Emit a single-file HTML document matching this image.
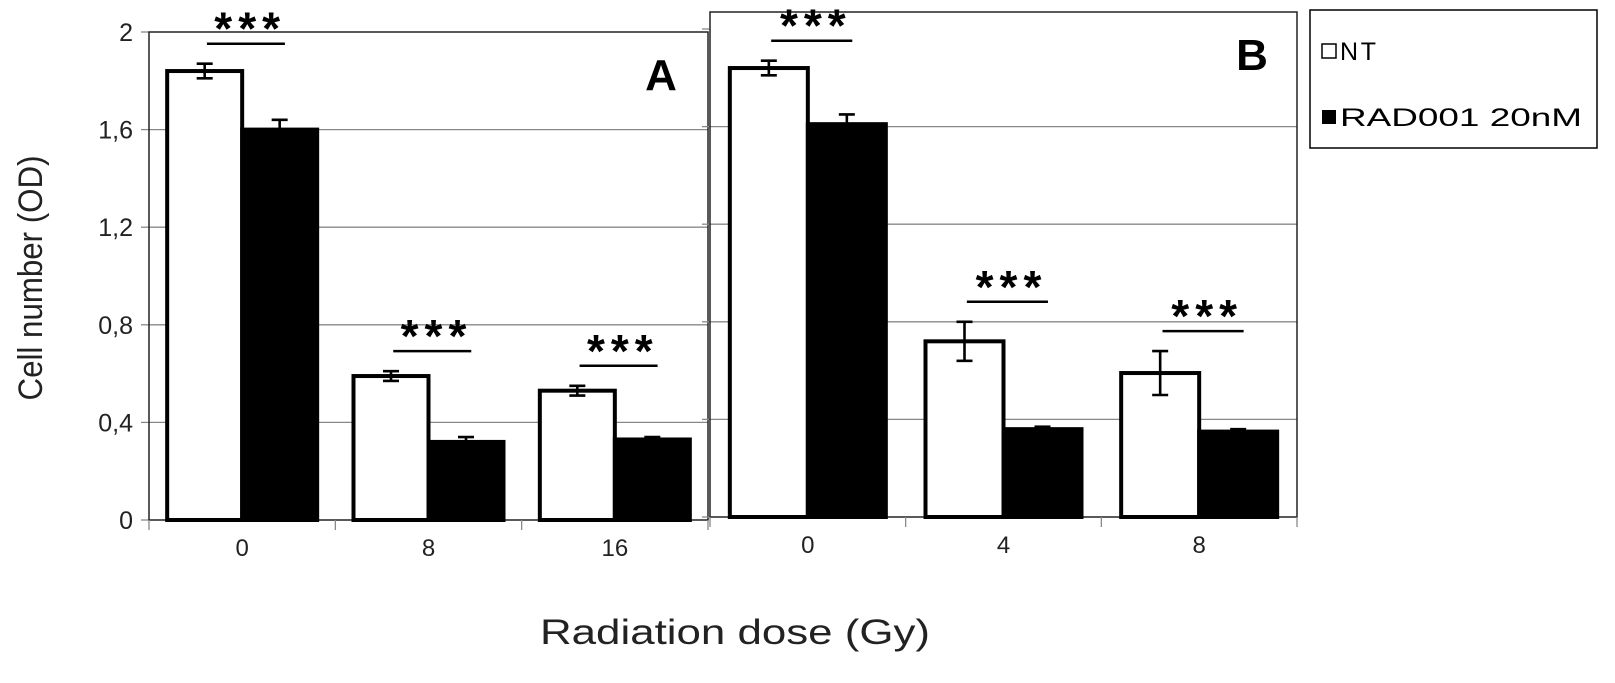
<!DOCTYPE html>
<html><head><meta charset="utf-8"><style>
body{margin:0;background:#fff;width:1615px;height:678px;overflow:hidden}
svg{font-family:"Liberation Sans",sans-serif}
</style></head><body>
<svg id="c" width="1615" height="678"></svg>
<script>
const catsA=["0","8","16"];
const ntA=[1.84,0.59,0.53], ntAErr=[0.03,0.02,0.02];
const radA=[1.60,0.32,0.33], radAErr=[0.04,0.02,0.01];
const catsB=["0","4","8"];
const ntB=[1.84,0.72,0.59], ntBErr=[0.03,0.08,0.09];
const radB=[1.61,0.36,0.35], radBErr=[0.04,0.01,0.01];
const yTicks=[0,0.4,0.8,1.2,1.6,2];
const yTickLabels=["0","0,4","0,8","1,2","1,6","2"];
const sigLabels=["***","***","***"];

const svg=document.getElementById('c');
const NS="http://www.w3.org/2000/svg";
function el(t,a,p){const e=document.createElementNS(NS,t);for(const k in a)e.setAttribute(k,a[k]);(p||svg).appendChild(e);return e;}

function panel(name,x0,x1,y0px,top,cats,nt,ntE,rad,radE,bw,showLabels,letter,letterX){
  const g=el('g',{});
  
  
  const y=v=>y0px-v/0.4*97.6;
  const step=(x1-x0)/cats.length;
  const cx=i=>x0+step*(i+0.5);
  yTicks.forEach((t,i)=>{
    if(t>0&&t<2){const l=el('line',{x1:x0,x2:x1,y1:y(t),y2:y(t),stroke:'#888','stroke-width':1.3},g);
      }
    el('line',{x1:x0-8,x2:x0,y1:y(t),y2:y(t),stroke:'#888','stroke-width':1.3},g);
    if(showLabels){const tx=el('text',{x:x0-16,y:y(t)+9,'font-size':25,'text-anchor':'end',fill:'#222'},g);
      tx.textContent=yTickLabels[i];}
  });
  const fr=el('rect',{x:x0,y:top,width:x1-x0,height:y0px-top,fill:'none',stroke:'#222','stroke-width':1.5},g);
  
  for(let i=0;i<=cats.length;i++) el('line',{x1:x0+step*i,x2:x0+step*i,y1:y0px,y2:y0px+10,stroke:'#888','stroke-width':1.3},g);
  cats.forEach((c,i)=>{
    const xc=cx(i);
    const b1=el('rect',{x:xc-bw,y:y(nt[i]),width:bw,height:y0px-y(nt[i]),fill:'#fff',stroke:'#000','stroke-width':4},g);
    
    const b2=el('rect',{x:xc,y:y(rad[i]),width:bw,height:y0px-y(rad[i]),fill:'#000',stroke:'#000','stroke-width':4},g);
    
    [[xc-bw/2,nt[i],ntE[i]],[xc+bw/2,rad[i],radE[i]]].forEach(([ex,v,e])=>{
      const eg=el('g',{stroke:'#000','stroke-width':2.6},g);
      
      el('line',{x1:ex,x2:ex,y1:y(v+e),y2:y(v-e)},eg);
      el('line',{x1:ex-8,x2:ex+8,y1:y(v+e),y2:y(v+e)},eg);
      el('line',{x1:ex-8,x2:ex+8,y1:y(v-e),y2:y(v-e)},eg);
    });
    const ly=y(nt[i]+ntE[i])-20;
    const sl=el('line',{x1:xc-bw*0.47,x2:xc+bw*0.57,y1:ly,y2:ly,stroke:'#000','stroke-width':2.5},g);
    
    const st=el('text',{x:xc+8,y:ly+1,'font-size':46,'font-weight':'bold','text-anchor':'middle','letter-spacing':'6'},g);
    st.textContent=sigLabels[i];
    const xl=el('text',{x:xc,y:y0px+36,'font-size':24,'text-anchor':'middle',fill:'#222'},g);
    xl.textContent=c;
  });
  const L=el('text',{x:letterX,y:top+58,'font-size':44,'font-weight':'bold','text-anchor':'middle'},g);
  L.textContent=letter;
}
panel('panel-a',149,708,520,32,catsA,ntA,ntAErr,radA,radAErr,75,true,'A',661);
panel('panel-b',710,1297,517,12,catsB,ntB,ntBErr,radB,radBErr,78,false,'B',1252);
</script>
<svg style="position:absolute;left:0;top:0" width="1615" height="678">
<g>
<rect x="1310" y="10" width="287" height="138" fill="#fff" stroke="#000" stroke-width="1.5"/>
<g>
<rect x="1322" y="44" width="14" height="14" fill="#fff" stroke="#000" stroke-width="1.5"/>
<text x="1340" y="60" font-size="25" textLength="36" font-family="Liberation Sans,sans-serif">NT</text></g>
<g>
<rect x="1322" y="110" width="14" height="14" fill="#000"/>
<text x="1340" y="126" font-size="25" textLength="242" lengthAdjust="spacingAndGlyphs" font-family="Liberation Sans,sans-serif">RAD001 20nM</text></g>
</g>
<text transform="translate(42,278) rotate(-90)" text-anchor="middle" font-size="34" textLength="245" lengthAdjust="spacingAndGlyphs" fill="#222" font-family="Liberation Sans,sans-serif">Cell number (OD)</text>
<text x="735" y="644" text-anchor="middle" font-size="35" textLength="390" lengthAdjust="spacingAndGlyphs" fill="#222" font-family="Liberation Sans,sans-serif">Radiation dose (Gy)</text>
</svg>
</body></html>
